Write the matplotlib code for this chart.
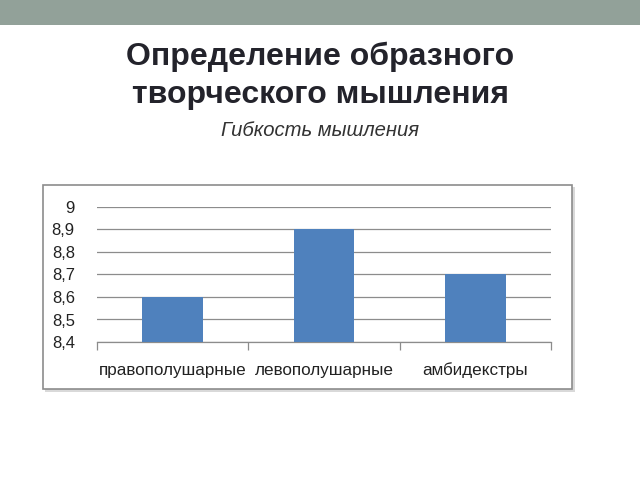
import matplotlib.pyplot as plt
from matplotlib.patches import Rectangle
from matplotlib.ticker import FuncFormatter, FixedLocator
import numpy as np

title = "Определение образного\nтворческого мышления"
subtitle = "Гибкость мышления"
categories = ["правополушарные", "левополушарные", "амбидекстры"]
values = [8.6, 8.9, 8.7]
y_ticks = [8.4, 8.5, 8.6, 8.7, 8.8, 8.9, 9.0]

plt.rcParams['font.family'] = ['Liberation Sans', 'DejaVu Sans']

fig = plt.figure(figsize=(6.4, 4.8), dpi=100)
W, H = 640, 480

# top band of the slide
fig.patches.append(Rectangle((0, 1 - 25 / H), 1, 25 / H, transform=fig.transFigure,
                             facecolor='#92A199', edgecolor='none', zorder=0))

fig.text(0.5, 1 - 76 / H, title, ha='center', va='center', fontsize=23,
         fontweight='bold', color='#23232b', linespacing=1.32)
fig.text(0.5, 1 - 131 / H, subtitle, ha='center', va='center', fontsize=14.6,
         style='italic', color='#333333')

# chart frame with a small shadow
fig.patches.append(Rectangle((45 / W, 1 - 392 / H), 530 / W, 205 / H, transform=fig.transFigure,
                             facecolor='#d9d9d9', edgecolor='none', zorder=1))
fig.patches.append(Rectangle((43 / W, 1 - 389 / H), 529 / W, 204 / H, transform=fig.transFigure,
                             facecolor='white', edgecolor='#8c8c8c', linewidth=1.2, zorder=2))

ax = fig.add_axes([97 / W, 1 - 342 / H, 454 / W, 135 / H], zorder=3)
ax.patch.set_alpha(0)
x = np.arange(len(categories))
ax.bar(x, values, width=0.4, color='#4F81BD', zorder=3)

ax.set_xlim(-0.5, len(categories) - 0.5)
ax.set_ylim(8.4, 9.0)
ax.set_yticks(y_ticks)
ax.yaxis.set_major_formatter(FuncFormatter(lambda v, p: f"{v:g}".replace('.', ',')))
ax.yaxis.grid(True, color='#8c8c8c', linewidth=0.9)
ax.set_axisbelow(True)

ax.set_xticks(x)
ax.set_xticklabels(categories)
for lbl in ax.get_xticklabels():
    lbl.set_verticalalignment('baseline')
ax.xaxis.set_minor_locator(FixedLocator(np.arange(len(categories) + 1) - 0.5))
ax.tick_params(axis='x', which='major', length=0, pad=24, labelsize=12.3, colors='#222222')
ax.tick_params(axis='x', which='minor', length=6, color='#8c8c8c', width=0.9)
ax.tick_params(axis='y', length=0, pad=16, labelsize=12, colors='#222222')

for s in ['top', 'right', 'left']:
    ax.spines[s].set_visible(False)
ax.spines['bottom'].set_color('#8c8c8c')
ax.spines['bottom'].set_linewidth(0.9)

fig.savefig('out.png', dpi=100)
